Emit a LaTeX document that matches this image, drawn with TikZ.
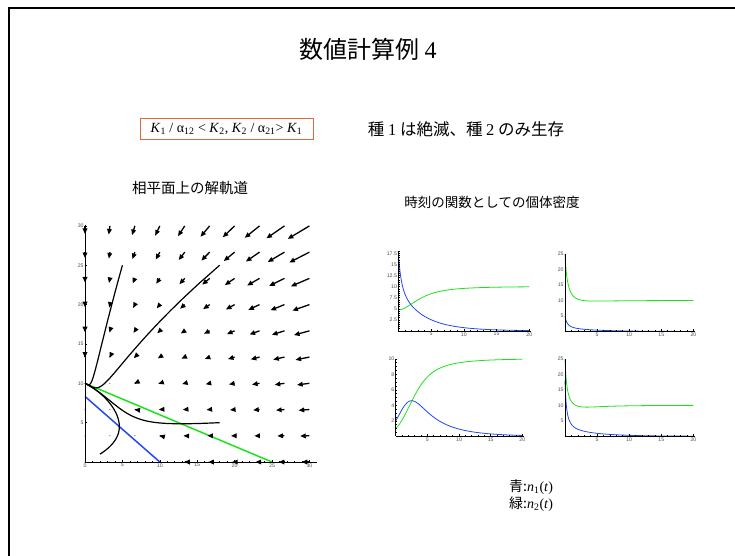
\documentclass[tikz,border=0pt]{standalone}
\usepackage{fontspec}
\setmainfont{Liberation Serif}
\setsansfont{Liberation Sans}
\newfontfamily\jp{Noto Sans CJK JP}
\usetikzlibrary{arrows.meta}

\definecolor{boxorange}{RGB}{226,104,56}
\definecolor{curveblue}{RGB}{36,72,240}
\definecolor{curvegreen}{RGB}{28,226,28}

% n1' = n1 (10 - n1 - 1.2 n2)/10,  n2' = n2 (10 - n2 - 0.4 n1)/10
\newcommand\lvrun[3]{%
  \xdef\nA{#1}\xdef\nB{#2}%
  \xdef\ptsP{(#1,#2)}\xdef\ptsA{(0,#1)}\xdef\ptsB{(0,#2)}%
  \foreach \i in {1,...,400}{%
    \pgfmathsetmacro\fa{\nA*(10-\nA-1.2*\nB)/10}%
    \pgfmathsetmacro\fb{\nB*(10-\nB-0.4*\nA)/10}%
    \pgfmathsetmacro\pa{\nA+0.05*\fa}%
    \pgfmathsetmacro\pb{\nB+0.05*\fb}%
    \pgfmathsetmacro\ga{\pa*(10-\pa-1.2*\pb)/10}%
    \pgfmathsetmacro\gb{\pb*(10-\pb-0.4*\pa)/10}%
    \pgfmathsetmacro\na{\nA+0.025*(\fa+\ga)}%
    \pgfmathsetmacro\nb{\nB+0.025*(\fb+\gb)}%
    \pgfmathsetmacro\tm{0.05*\i}%
    \xdef\nA{\na}\xdef\nB{\nb}%
    \xdef\ptsP{\ptsP -- (\na,\nb)}%
    \xdef\ptsA{\ptsA -- (\tm,\na)}%
    \xdef\ptsB{\ptsB -- (\tm,\nb)}%
  }%
  \expandafter\global\expandafter\let\csname lv#3P\endcsname\ptsP
  \expandafter\global\expandafter\let\csname lv#3A\endcsname\ptsA
  \expandafter\global\expandafter\let\csname lv#3B\endcsname\ptsB
}

\newcommand\timeplot[8]{%
  \begin{scope}[shift={(#1,#2)}, x=#3pt, y=#4pt]
    \expandafter\let\expandafter\curA\csname lv#8A\endcsname
    \expandafter\let\expandafter\curB\csname lv#8B\endcsname
    \draw[densB] \curB;
    \draw[densA] \curA;
    \draw[axis] (0,0) -- (20.3,0);
    \draw[axis] (0,0) -- (0,#5);
    \foreach \t in {1,...,20} \draw[axis] (\t,0) -- ++(0,1.2pt);
    \foreach \t in {5,10,15,20} \draw[axis] (\t,0) -- ++(0,2.2pt);
    \foreach \yv in {#7,...,#5} \draw[axis] (0,\yv) -- ++(1.2pt,0);
    \foreach \t in {5,10,15,20} \node[ticklab, below] at (\t,0) {\t};
    \foreach \yv in {#6} \node[ticklab, left] at (0,\yv) {\yv};
  \end{scope}}

\begin{document}
\begin{tikzpicture}
    [x=1pt, y=-1pt,
     heading/.style={font=\fontsize{24}{27}\selectfont\jp, inner sep=0pt},
     caption/.style={font=\fontsize{#1}{#1}\selectfont\jp, inner sep=0pt},
     condbox/.style={draw=boxorange, line width=0.8pt,
       minimum width=173pt, minimum height=21pt, inner sep=0pt,
       font=\fontsize{14}{16}\selectfont},
     ticklab/.style={font=\fontsize{5.2}{6}\selectfont\sffamily,
       text=black!70, inner sep=1.2pt},
     axis/.style={line width=0.6pt},
     field/.style={-{Triangle[length=5.6pt,width=4.6pt]}, line width=1.3pt},
     orbit/.style={line width=1.2pt},
     isoA/.style={curveblue, line width=1.5pt},
     isoB/.style={curvegreen, line width=1.5pt},
     densA/.style={curveblue, line width=0.8pt},
     densB/.style={curvegreen, line width=0.8pt},
     key/.style={font=\fontsize{14}{16}\selectfont, inner sep=0pt, anchor=west}]

    \useasboundingbox (0,0) rectangle (735,555);
    \draw[line width=2pt] (9,560) -- (9,8) -- (740,8);

    \lvrun{18}{5}{a}
    \lvrun{5}{25}{b}
    \lvrun{2}{1}{c}
    \lvrun{18}{25}{d}

    \node[heading] (ttl) at (368,49) {数値計算例 {\rmfamily 4}};
    \node[condbox] (cond) at (226.5,128.5)
      {\textit{K}\textsubscript{1} / α\textsubscript{12} < \textit{K}\textsubscript{2},
       \textit{K}\textsubscript{2} / α\textsubscript{21}> \textit{K}\textsubscript{1}};
    \node[caption=16.5] (verdict) at (466,129)
      {種 {\rmfamily 1} は絶滅、種 {\rmfamily 2} のみ生存};
    \node[caption=14.5] (phasecap) at (190,188) {相平面上の解軌道};
    \node[caption=13.5] (timecap) at (492,202) {時刻の関数としての個体密度};

    \begin{scope}[shift={(85,462)}, x=7.48pt, y=7.87pt]
      \draw[isoA] (0,25/3) -- (10,0);
      \draw[isoB] (0,10) -- (25,0);
      \foreach \i in {0,...,9}
        \foreach \j in {0,...,9}{
          \pgfmathsetmacro\px{\i*10/3}
          \pgfmathsetmacro\py{\j*10/3}
          \pgfmathsetmacro\du{\px*(10-\px-1.2*\py)/10}
          \pgfmathsetmacro\dv{\py*(10-\py-0.4*\px)/10}
          \pgfmathsetmacro\mg{veclen(\du,\dv)}
          \pgfmathsetmacro\ex{0.01723*\du}
          \pgfmathsetmacro\ey{0.01723*\dv}
          \ifdim\mg pt<2.6pt
            \fill (\px,\py) circle[radius=0.5pt];
          \else
            \draw[field] (\px,\py) -- ++(\ex,\ey);
          \fi}
      \draw[orbit] \lvaP;
      \draw[orbit] \lvbP;
      \draw[orbit] \lvcP;
      \draw[orbit] \lvdP;
      \draw[axis] (0,0) -- (31,0);
      \draw[axis] (0,0) -- (0,30.1);
      \foreach \t in {1,...,30} \draw[axis] (\t,0) -- ++(0,1pt) (0,\t) -- ++(1pt,0);
      \foreach \t in {5,10,...,30} \draw[axis] (\t,0) -- ++(0,2pt) (0,\t) -- ++(2pt,0);
      \foreach \t in {0,5,...,30} \node[ticklab, below] at (\t,0) {\t};
      \foreach \t in {5,10,...,30} \node[ticklab, left] at (0,\t) {\t};
    \end{scope}

    \timeplot{398.3}{331}{6.55}{4.44}{18}{2.5,5,7.5,10,12.5,15,17.5}{0.5,1}{a}
    \timeplot{565}{331.5}{6.42}{3.1}{25}{5,10,15,20,25}{1,2}{b}
    \timeplot{395.7}{436.3}{6.33}{7.75}{10}{2,4,6,8,10}{0.5,1}{c}
    \timeplot{565}{436.3}{6.42}{3.1}{25}{5,10,15,20,25}{1,2}{d}

    \node[key] (keyA) at (509,487) {{\jp 青:}\textit{n}\textsubscript{1}(\textit{t})};
    \node[key] (keyB) at (509,504) {{\jp 緑:}\textit{n}\textsubscript{2}(\textit{t})};
\end{tikzpicture}
\end{document}
